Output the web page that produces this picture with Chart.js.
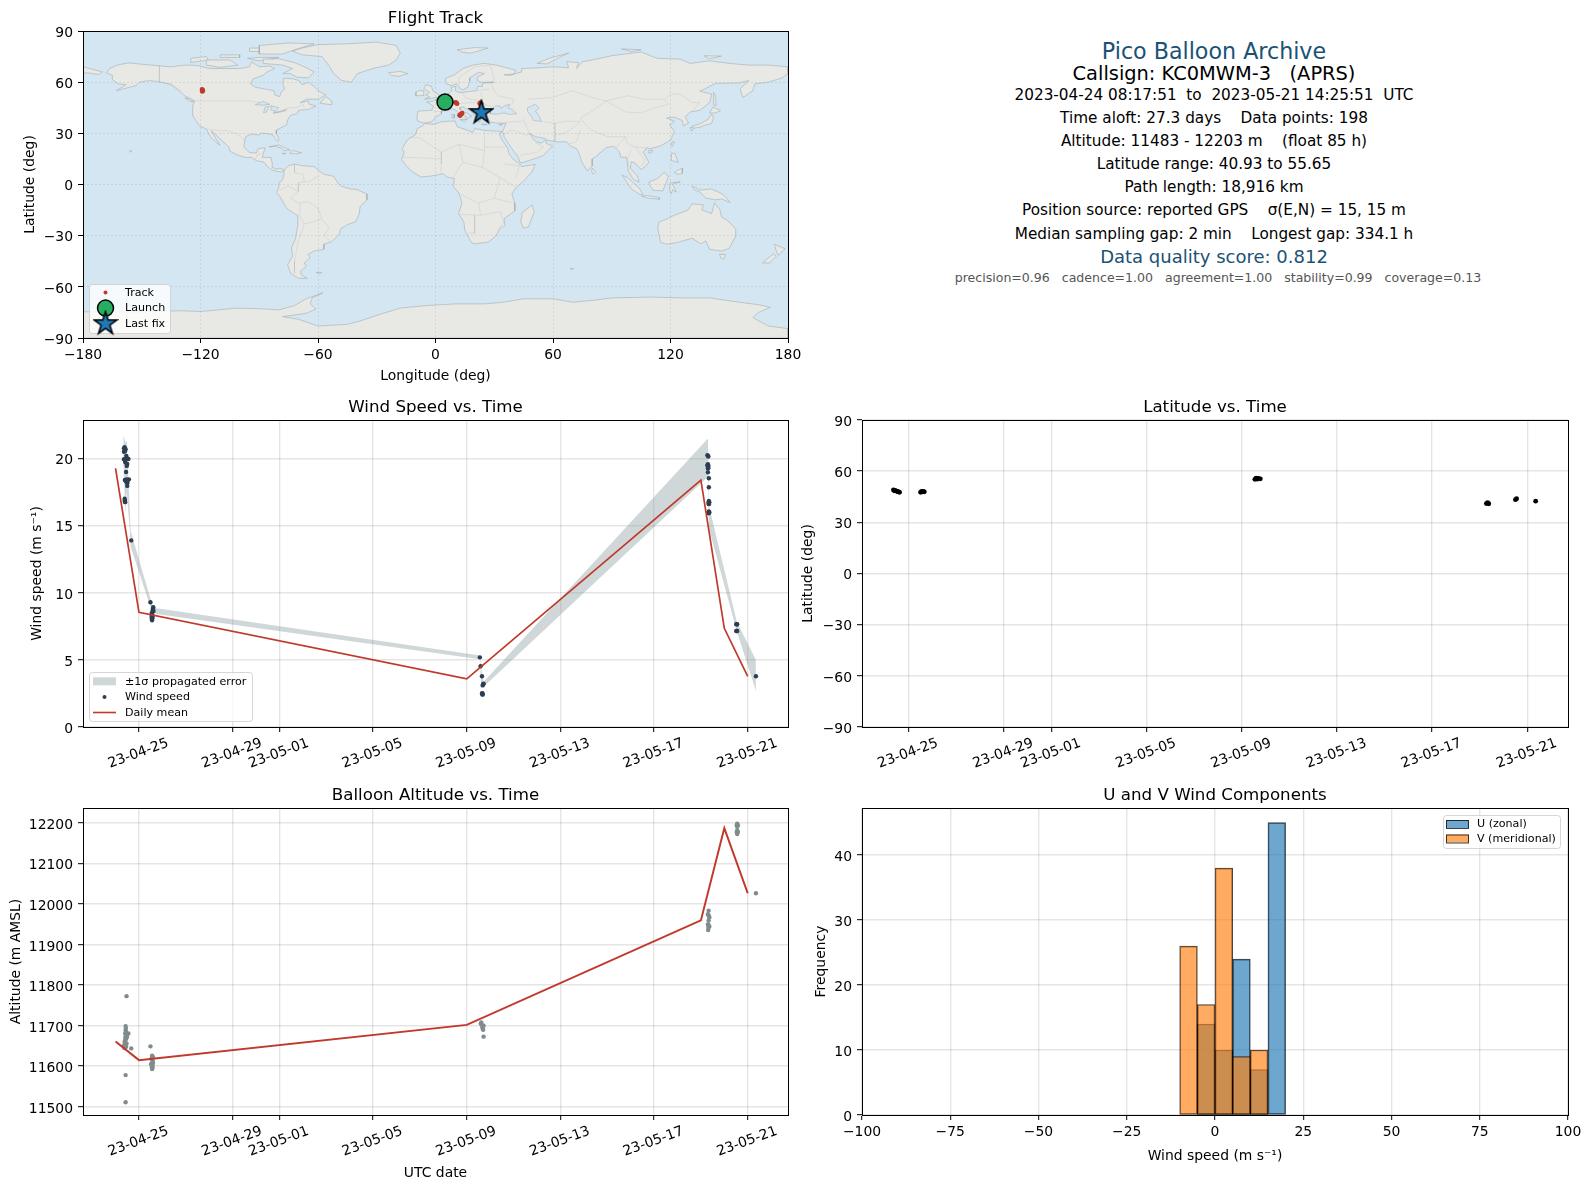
<!DOCTYPE html>
<html>
<head>
<meta charset="utf-8">
<title>Pico Balloon Archive</title>
<script src="https://cdn.jsdelivr.net/npm/chart.js@4/dist/chart.umd.min.js"></script>
<style>
  html, body { margin: 0; padding: 0; background: #fff; overflow: hidden; }
  body { position: relative; width: 1589px; height: 1189px; font-family: "DejaVu Sans", sans-serif; }
  canvas { position: absolute; display: block; }
  .info { position: absolute; left: 814px; width: 800px; text-align: center; white-space: pre; line-height: 1; transform: translateY(-50%); }
</style>
</head>
<body>
<canvas id="mapChart" width="810" height="390" style="left:0;top:0"></canvas>
<canvas id="windChart" width="810" height="388" style="left:0;top:389px"></canvas>
<canvas id="latChart" width="810" height="388" style="left:779px;top:389px"></canvas>
<canvas id="altChart" width="810" height="412" style="left:0;top:777px"></canvas>
<canvas id="histChart" width="810" height="412" style="left:779px;top:777px"></canvas>
<script>
// Time is in days since 2023-04-25 00:00 UTC
const tickDays = [0, 4, 6, 10, 14, 18, 22, 26];
const tickLabels = ['23-04-25', '23-04-29', '23-05-01', '23-05-05', '23-05-09', '23-05-13', '23-05-17', '23-05-21'];

const windDays = [-0.64, -0.57, -0.64, -0.54, -0.64, -0.54, -0.45, -0.58, -0.50, -0.55, -0.60, -0.53, -0.43, -0.50, -0.50, -0.60, -0.60, -0.33,
  -0.61, -0.60, -0.52, -0.60, -0.52, -0.56, -0.49, -0.61, -0.59,
  0.49, 0.61, 0.59, 0.56, 0.54, 0.58, 0.55, 0.60, 0.62, 0.57, 0.54, 0.57, 0.56,
  14.56, 14.59, 14.65, 14.70, 14.67, 14.67, 14.72, 14.68, 14.65, 14.68,
  24.30, 24.30, 24.30, 24.30, 24.30, 24.34, 24.34, 24.34, 24.34, 24.34, 24.34, 24.28, 24.32, 24.28, 24.32, 24.32, 24.32, 24.36, 24.32, 24.36,
  25.53, 25.53, 25.51, 25.55, 25.51, 25.55, 26.35];
const windSpeed = [20.76, 20.70, 20.50, 20.20, 19.95, 19.96, 19.96, 19.70, 19.60, 19.00, 18.40, 18.45, 18.45, 18.15, 17.96, 16.90, 16.80, 13.90,
  20.85, 20.55, 20.05, 19.85, 19.45, 18.30, 18.30, 17.00, 16.75,
  9.29, 8.92, 8.72, 8.54, 8.40, 8.22, 8.05, 8.80, 8.65, 8.35, 8.20, 8.10, 7.95,
  5.19, 4.52, 3.78, 3.18, 2.51, 2.43, 3.22, 3.10, 2.50, 2.42,
  20.20, 19.57, 19.40, 19.27, 18.98, 18.53, 17.86, 16.84, 16.60, 16.05, 15.92, 20.25, 20.15, 19.50, 19.45, 19.30, 16.70, 16.75, 15.95, 16.00,
  7.65, 7.15, 7.65, 7.65, 7.15, 7.15, 3.78];

const bandDays = [-0.668, -0.582, -0.525, -0.40, -0.354, 0.485, 0.57, 0.61, 14.56, 14.62, 14.72, 24.30, 24.34, 25.53, 26.35];
const bandUpper = [21.8, 21.2, 21.3, 16.5, 14.6, 9.6, 9.1, 8.89, 5.33, 4.4, 3.38, 21.5, 16.5, 7.85, 5.0];
const bandLower = [19.6, 15.9, 17.5, 14.9, 13.4, 9.0, 8.0, 8.45, 5.05, 3.0, 3.0, 18.65, 14.8, 7.15, 2.68];

const meanDays = [-1, 0, 14, 24, 25, 26];
const meanWind = [19.27, 8.54, 3.58, 18.4, 7.35, 3.78];

const latDays = [-0.64, -0.60, -0.58, -0.54, -0.50, -0.46, -0.44, -0.42, -0.38, 0.50, 0.54, 0.58, 0.62, 0.66, 14.55, 14.60, 14.65, 14.70, 14.78, 24.28, 24.33, 24.38, 25.50, 25.55, 26.35];
const latValues = [49.0, 48.5, 48.7, 48.5, 48.3, 48.0, 47.9, 47.8, 47.6, 47.6, 48.2, 47.8, 48.2, 47.9, 55.2, 55.9, 55.3, 55.8, 55.5, 41.0, 41.6, 40.9, 43.3, 43.9, 42.4];

const altDays = [-0.53, -0.57, -0.57, -0.55, -0.45, -0.52, -0.58, -0.55, -0.60, -0.58, -0.64, -0.55, -0.33, -0.57, -0.57,
  -0.56, -0.59, -0.51, -0.61, -0.53, -0.62,
  0.49, 0.56, 0.56, 0.59, 0.54, 0.58, 0.56, 0.53, 0.60, 0.52, 0.60, 0.55, 0.58,
  14.62, 14.65, 14.67, 14.70, 14.72, 14.60, 14.72, 14.68,
  24.33, 24.33, 24.33, 24.32, 24.32, 24.31, 24.30, 24.36, 24.30, 24.36,
  25.55, 25.55, 25.55, 25.55, 25.53, 25.58, 25.53, 25.58, 26.35];
const altValues = [11773, 11699, 11689, 11683, 11681, 11677, 11671, 11667, 11663, 11656, 11651, 11648, 11644, 11578, 11511,
  11694, 11680, 11672, 11660, 11656, 11645,
  11649, 11626, 11620, 11613, 11607, 11601, 11593, 11618, 11622, 11605, 11608, 11598, 11596,
  11708, 11702, 11696, 11690, 11673, 11705, 11700, 11692,
  11984, 11972, 11960, 11950, 11942, 11936, 11975, 11968, 11950, 11945,
  12199, 12191, 12182, 12173, 12195, 12195, 12178, 12178, 12027];

const altMeanDays = [-1, 0, 14, 24, 25, 26];
const altMeanValues = [11661, 11615, 11702, 11960, 12188, 12027];

const binCenters = [-7.5, -2.5, 2.5, 7.5, 12.5, 17.5];
const uCounts = [null, 14, 10, 24, 7, 45];
const vCounts = [26, 17, 38, 9, 10, null];

const trackLon = [-119.2, -119.0, -118.8, -119.1, 10.2, 10.6, 11.0, 12.3, 12.8, 13.2, 13.6, 12.6, 23.0, 22.6, 23.3, 4.8, 6.0];
const trackLat = [55.7, 55.3, 55.0, 54.6, 48.2, 47.8, 47.4, 40.6, 41.0, 41.4, 41.8, 40.4, 48.0, 47.5, 47.2, 48.5, 48.2];
const launchLon = [4.85], launchLat = [48.3];
const lastLon = [23.4], lastLat = [42.4];

const mapLonTicks = [-180, -120, -60, 0, 60, 120, 180];
const mapLatTicks = [-90, -60, -30, 0, 30, 60, 90];

// Base map, [lon, lat] outlines
const landPolygons = [
  // North America
  [[-168,65.5],[-166,68.3],[-162,70.2],[-156.5,71.3],[-150,70.5],[-141,69.6],[-135,69],[-128,70],[-122,69.8],[-115,68],[-108,68],[-100,68],[-95,69],[-94,72],[-90,69],[-85,69.5],[-82,68],[-86,66],[-88,64],[-93,62],[-94.5,59],[-92,57],[-87,56],[-82.5,55],[-82,52.5],[-79.5,51.5],[-79,54],[-77,56],[-78,59],[-77.5,62.3],[-73,62],[-70,61],[-68,58.5],[-65,60],[-62,57.5],[-60,55],[-56,52.5],[-60,50],[-66,50],[-69,48],[-65,49],[-64.5,47],[-61,46],[-65,44],[-70,43.5],[-70.5,41.7],[-74,40.6],[-75.5,38],[-76,35],[-78,33.8],[-81,32],[-81.3,30],[-80,26.8],[-80.5,25.2],[-82,27],[-83,29],[-85,29.7],[-89,30.2],[-90,29],[-94,29.6],[-97,28],[-97.5,25],[-97.8,22],[-95,18.7],[-91.5,18.5],[-90.5,21],[-87,21.5],[-88,18],[-88.5,16],[-84,15.8],[-83.3,12],[-83.5,10],[-81,9],[-79.5,9.5],[-77.3,8.5],[-78,7.5],[-80,7.5],[-83,8.3],[-85.5,10],[-87.5,13],[-91.5,14],[-94,16],[-97,15.8],[-101,17.3],[-105,19.5],[-105.5,22],[-109,25.6],[-112,29],[-114.5,31.5],[-112,26.5],[-110,23],[-112,24.8],[-115,28],[-117,32.5],[-120.5,34.5],[-122.5,37.8],[-124.2,41],[-124,46],[-123,49],[-128,52],[-131,55],[-135,58.5],[-140,60],[-146,61],[-151,60],[-153,58],[-158,56.5],[-163,55],[-158,58.5],[-162,59],[-165,61.5],[-165,64]],
  // South America
  [[-77.3,8.5],[-75,11],[-72,12],[-68,11],[-62,10.5],[-60,8.5],[-57,6],[-52,4.8],[-50,1],[-48,-1],[-44,-2.5],[-40,-3],[-35.2,-5.5],[-35,-9],[-38.5,-13],[-39,-17.5],[-41,-22],[-45,-23.5],[-48.5,-26],[-49,-29],[-53,-33.5],[-57,-35],[-57,-38],[-62,-39],[-65,-41],[-64,-43],[-67,-46],[-66,-48],[-69,-51],[-68.5,-53],[-65.5,-55],[-70,-55],[-74,-52],[-75.5,-47],[-73,-42],[-73.5,-37],[-71.5,-32],[-70.5,-25],[-70.3,-18.3],[-76,-14],[-79.5,-7],[-81.2,-4.5],[-80,-2],[-80,1],[-78.5,2],[-77.5,5]],
  // Greenland and the Arctic islands
  [[-73,78.2],[-68,80],[-60,82],[-45,82.5],[-30,83.5],[-20,81.5],[-18,77],[-20,73],[-24,70],[-32,68],[-40,65],[-43,60],[-48,61],[-52,65],[-54,69],[-58,75],[-68,76]],
  [[-80,73.7],[-72,71.5],[-67,69],[-62,66],[-65,62.5],[-71,63],[-74,65],[-78,65],[-73,68],[-78,70],[-88,71],[-88,73.5]],
  [[-117,73],[-105,73],[-101,70],[-110,68.7],[-117,70]],
  [[-125,74],[-117,75],[-116,73],[-125,71.5]],
  [[-90,76.5],[-78,76.5],[-72,79],[-62,82.5],[-75,83],[-90,81.5]],
  [[-110,76],[-100,76],[-100,74.5],[-110,74.5]],
  [[-95,80],[-87,80],[-87,78],[-95,78]],
  [[-96,74],[-90,74.5],[-80,74.5],[-90,72.5]],
  [[-59,47.7],[-53,46.7],[-53,49],[-56,51.5]],
  [[-128,50.8],[-125,50],[-123.5,48.4],[-125.5,48.8]],
  [[-24,65.5],[-18,66.3],[-14,65],[-19,63.4],[-22.5,64]],
  // Eurasia
  [[-9,37],[-9.5,39],[-9,43],[-2,43.5],[-1,46],[-4.5,48.4],[-1.5,48.7],[1.5,50.5],[4,52],[7,53.5],[8.5,55],[8,57],[10.5,57.5],[10,55],[12,54],[14,54],[18.5,54.7],[21,55],[21.5,57.5],[24,57.5],[24,59.3],[28,59.7],[30,60],[23,60],[21.5,61],[21.3,63],[25,65],[22,65.8],[17.5,62.5],[17.5,60.5],[16.5,57],[14,55.5],[12.8,56],[11,59],[8,58],[5.5,59],[5,62],[10,64.5],[14,68],[19,70],[25,71],[31,70],[41,67],[40,64.8],[35,64.3],[38,64],[44,66],[44,68],[54,68.5],[60,69],[68,68.5],[67,72],[73,71.5],[72,68],[75,72],[80,73],[90,75.5],[105,77.7],[113,74],[125,73.5],[130,71],[140,72.5],[150,71],[160,70],[170,70],[180,69],[180,65],[177,62.5],[170,60],[163,59],[162,55],[157,51],[155.5,56],[160,61],[155,59.5],[143,59.3],[135,54.7],[141,53],[140,48],[135,43.5],[130,42.5],[127.5,39.5],[129.3,36],[126.5,34.5],[126,37.5],[122,39.5],[118,39],[122,37],[119.5,35],[122,31],[120,26],[115,22.7],[110,21],[108,21.5],[106,19],[109,13],[107,10.5],[105,8.7],[102,12.5],[100,13.5],[99.5,9.5],[103,5],[104,1.4],[101,3],[98.5,8],[97.5,16],[94.5,16],[94,19],[91,22.5],[87,21.5],[82,16.5],[80,15],[80,11],[77.5,8],[75,12.5],[73,19],[72,21],[69,22.5],[67,25],[61.5,25],[57,26],[56,27],[51,28],[48,30],[50,26.5],[51.5,25],[54,24.2],[56.3,26],[56.7,24],[59.8,22.5],[55,17],[52,15.7],[45,13],[43.3,12.7],[42,16.5],[39,21],[35,28],[34.8,29.5],[34.2,31],[35,33],[36,36],[32,36],[28,36.6],[26.5,39],[26,41],[24,41],[23,40],[23,38],[22.5,36.5],[21,38],[19.5,41],[19,42.5],[14,45.5],[12.3,45],[12.5,44],[16,41.8],[18.5,40],[16.5,39],[16,38],[15.7,40],[12.5,41.5],[10,43.8],[8.5,44.3],[5,43.3],[3,43],[3,41.5],[0,39.5],[-2,36.8],[-5.5,36]],
  [[-180,69],[-175,67.5],[-170,66],[-172,64.5],[-178,65.5],[-180,65]],
  [[-5.5,50],[1.4,51.2],[1.7,52.7],[-1.5,55],[-2,57.5],[-5,58.6],[-6,56.3],[-3,54],[-5,52.5],[-3,51.4]],
  [[-10,52],[-6,52.2],[-6,55],[-8.5,55],[-10,54]],
  [[11,79],[20,80.3],[27,80],[18,77],[14,77.5]],
  [[52,71],[58,74],[68,77],[65,75.5],[57,70.7]],
  [[95,79.5],[105,79],[100,78]],
  [[137,75.5],[146,75.3],[140,73.7]],
  [[12.5,38],[15.6,38.2],[15,36.7]],
  [[8.3,41],[9.7,41],[9.5,39],[8.5,39]],
  [[23.5,35.5],[26.3,35.2],[24,35]],
  [[32.4,35],[34.5,35.6],[33.5,34.7]],
  // Caribbean and small islands
  [[-85,22],[-80,23.2],[-74.2,20.2],[-77.5,19.9],[-78.5,21.3],[-82,22.5]],
  [[-74.4,18.4],[-73,19.9],[-68.4,18.6],[-71,18]],
  [[-78.3,18.4],[-76.3,18.2],[-77,17.8]],
  [[-156,20],[-155,19.6],[-155.8,19]],
  [[-61,-51.5],[-58,-51.5],[-59,-52.3]],
  [[69,-49],[70.5,-49.5],[69,-49.7]],
  // Africa
  [[-5.5,35.8],[-1,35.2],[3,36.8],[10,37.3],[11,34],[15,32.3],[19,30.5],[20,32.8],[25,31.7],[31,31.3],[34.2,31],[32.6,29.8],[33.5,27],[37,21],[37.5,18],[39.5,15],[43,12],[44,10.5],[51,11.8],[49,7],[45,2],[41,-2],[39,-5.5],[40.5,-11],[40.5,-15.5],[35,-20],[35.5,-24],[32.7,-26],[31,-30],[27,-33.8],[20,-34.8],[18.3,-34],[15,-27],[14.5,-22],[11.8,-17],[13.5,-11],[12,-5],[9,-1],[9.7,3.5],[6,4.3],[4,6.3],[-2,5],[-7.5,4.4],[-12,7.7],[-15,11],[-17.3,14.7],[-16,19],[-17,21],[-14.5,26],[-10,29.5],[-9.5,32.5],[-6.5,34.5]],
  [[49.3,-12],[50.4,-16],[47.5,-24.8],[45,-25.5],[43.5,-22],[44.3,-16.5]],
  // Australia and Oceania
  [[114,-22],[113.5,-26],[115,-34],[118,-35],[123.5,-34],[131,-31.5],[135.5,-34.8],[138,-33],[140,-38],[146,-39],[150,-37.5],[153,-31],[153.3,-26],[149,-21],[146,-19],[145.3,-15],[142.5,-10.8],[141,-17],[136,-15],[136.8,-12],[131,-11.3],[129,-15],[122,-18],[118,-20.3]],
  [[145,-41],[148,-41],[147.5,-43.5],[146,-43.5]],
  [[173,-35],[178.5,-37.7],[175,-41.5],[174,-39]],
  [[172.5,-40.7],[174,-42],[170.7,-46],[167,-46],[170,-43]],
  // East Asia and the Indonesian arc
  [[130.9,34],[135,35.6],[139,38],[141,41.3],[142,39],[140.8,35.7],[137,34.6],[135.5,33.7],[132,33]],
  [[140,42],[141.7,45.5],[145.5,43.3],[143,42]],
  [[130,33.4],[131.8,33.2],[130.7,31.2]],
  [[142,54],[143,52],[143.3,46.5],[142,46.5],[142,50]],
  [[121,25],[122,25],[120.8,22],[120.2,23]],
  [[109,20],[111,20],[110,18.2],[108.7,18.8]],
  [[120.5,18.3],[122.2,18.3],[124,13],[120.7,14]],
  [[122,7],[123.8,8.5],[126.3,9.5],[126,6.5],[124,6]],
  [[95.3,5.5],[98,4],[104,-2],[106,-6],[104,-5.7],[100,-2.5]],
  [[105.2,-6.8],[108.5,-6.5],[114.5,-7.8],[114.3,-8.7],[108,-7.9]],
  [[109,1.5],[113,3.2],[116.8,7],[119,5],[117.8,1],[116,-3.8],[111,-3.3],[109.5,-0.5]],
  [[119.8,1],[125,1.5],[121,0.3],[123,-4.5],[121,-3],[120.5,-5.5],[119.5,-3.5]],
  [[131,-0.8],[135,-3.3],[141,-2.6],[145.5,-5],[147.5,-6.5],[150.5,-10.5],[146,-8.5],[143,-9],[138,-8],[135,-4.4],[132,-3]],
  [[80,9.7],[81.8,7.5],[80.5,6],[79.8,7.5]],
  // Antarctica
  [[-180,-90],[-180,-74.6],[-150,-74.8],[-130,-74],[-120,-74.5],[-102,-72.5],[-90,-72.8],[-80,-73.5],[-72,-71],[-66,-67],[-57.5,-63.5],[-63,-66.5],[-64,-70],[-61,-73],[-66,-75.5],[-78,-77.5],[-70,-79],[-60,-83],[-45,-82],[-37,-79.5],[-28,-76],[-18,-72.5],[-5,-71],[10,-70],[25,-70],[35,-69],[45,-67],[60,-67],[70,-69],[80,-68],[90,-66.5],[110,-66],[125,-66.5],[140,-66.5],[155,-69],[165,-70.5],[171,-72],[165,-75],[162,-78],[170,-83],[180,-84.5],[180,-90]]
];

const waterPolygons = [
  [[28,41.5],[31,41.2],[35,42],[38,41],[41.5,41.5],[39,44],[37,45],[38,47],[35,46],[33.5,44.5],[33,46],[30.5,46],[28,43.5]],
  [[47,45],[51,47],[53,45],[51,43],[53,40],[54,37],[50,37.5],[49,40],[47,43]],
  [[-92,46.8],[-88,48.8],[-84.8,47],[-88,46.5]],
  [[-87.8,42],[-87,45.5],[-85,45.8],[-86.3,42.5]],
  [[-84,46],[-80,45],[-81.7,43],[-83.5,43.5]],
  [[-83,41.8],[-79,43],[-76,44],[-76.5,43.3],[-79,42.5]]
];

const borderLines = [
  [[-123,49],[-95,49],[-89,48],[-83,46],[-82.5,42.5],[-79,43],[-75,45],[-71,45],[-67.5,47],[-67,45]],
  [[-141,69.6],[-141,60],[-135,59],[-130,55]],
  [[-117,32.5],[-108,31.5],[-106.5,31.7],[-101,29.5],[-97.5,26]],
  [[-92,14.5],[-91,17.5],[-89,18]],
  [[-60,5],[-64,2],[-70,1],[-70,-4],[-74,-8],[-70,-11],[-65,-10],[-60,-14],[-58,-20],[-54.5,-25.5],[-57,-30],[-53.5,-33.5]],
  [[-69.5,-18],[-67,-23],[-70,-33],[-72,-45],[-72,-52]],
  [[-69,-11],[-69.5,-18]],
  [[-72,12],[-72,7],[-67.5,6],[-67,1.5]],
  [[-80,-3.5],[-75,-1],[-70,-4]],
  [[-67,-23],[-62.5,-22],[-58,-20]],
  [[-13,27.5],[-8.5,27.5],[3,19],[12,23.5],[25,20],[25,31.5]],
  [[25,20],[24,10],[33,4],[41,-1.5]],
  [[12,23.5],[14,13],[9,4.5]],
  [[3,19],[3,12],[2.7,6.4]],
  [[-16.5,16],[-5,15.5],[3,15]],
  [[14,13],[24,10]],
  [[36,22],[25,22]],
  [[33,4],[30,-8],[22,-11],[13,-6]],
  [[30,-8],[40,-11]],
  [[22,-11],[23,-18],[12,-17.5]],
  [[20,-18],[20,-28.5],[16.5,-28.5]],
  [[23,-18],[33,-16],[35,-22],[32,-26]],
  [[35,12],[43,11],[41,4]],
  [[-1.8,43.4],[3,42.5]],
  [[2.5,51],[8,49],[7,44]],
  [[7,53.5],[6,51],[8,47.5],[13,47.5],[17,48],[23,48],[29,45.5]],
  [[14,54],[15,51],[18,50],[23,49]],
  [[23,54],[24,50],[22,48]],
  [[28,60],[30,55],[32,52],[40,50],[39,47]],
  [[21,55],[28,56]],
  [[20,69],[28,70],[30,62],[28,60]],
  [[12,59],[12,63],[20,69]],
  [[47,50],[60,51],[70,55],[80,51],[87,49]],
  [[87,49],[98,52],[107,50],[117,50],[120,53],[125,53],[131,48],[135,48],[131,43]],
  [[87,49],[80,43],[74,39],[79,32],[88,28],[97,28],[98,24],[102,22],[108,21.5]],
  [[87,49],[97,42.5],[105,42],[112,45],[119,47],[117,50]],
  [[44.5,39],[48,30]],
  [[61,36],[61,25]],
  [[54,37],[61,36],[66,37],[74,37]],
  [[61,29],[66,30],[70,33],[74,37]],
  [[68,24],[72,25],[74,32]],
  [[35,29.5],[39,32],[46,29],[48,29.5]],
  [[43,17],[52,19],[55,22],[51,24.5]],
  [[36,36.5],[44.5,37]],
  [[92,21],[94,24],[97,28]],
  [[100,20],[98,15],[99,10]],
  [[102,22],[107,14],[105,10.5]]
];

const infoLines = [
  { text: 'Pico Balloon Archive', y: 51.2, size: 22.2, color: '#1a5276' },
  { text: 'Callsign: KC0MWM-3   (APRS)', y: 74, size: 19.4, color: '#000' },
  { text: '2023-04-24 08:17:51  to  2023-05-21 14:25:51  UTC', y: 96, size: 15.28, color: '#000' },
  { text: 'Time aloft: 27.3 days    Data points: 198', y: 119, size: 15.28, color: '#000' },
  { text: 'Altitude: 11483 - 12203 m    (float 85 h)', y: 142.4, size: 15.28, color: '#000' },
  { text: 'Latitude range: 40.93 to 55.65', y: 165, size: 15.28, color: '#000' },
  { text: 'Path length: 18,916 km', y: 188, size: 15.28, color: '#000' },
  { text: 'Position source: reported GPS    σ(E,N) = 15, 15 m', y: 211.3, size: 15.28, color: '#000' },
  { text: 'Median sampling gap: 2 min    Longest gap: 334.1 h', y: 234.5, size: 15.28, color: '#000' },
  { text: 'Data quality score: 0.812', y: 257.4, size: 18, color: '#1a5276' },
  { text: 'precision=0.96   cadence=1.00   agreement=1.00   stability=0.99   coverage=0.13', y: 277.7, size: 12.55, color: '#555', shift: 4 }
];

const FONT = '"DejaVu Sans", sans-serif';
const RED = '#c0392b';
const GRID = 'rgba(0,0,0,0.10)';
const BAND = 'rgba(125,145,150,0.36)';

Chart.defaults.font.family = FONT;
Chart.defaults.font.size = 13.9;
Chart.defaults.color = '#000';
Chart.defaults.animation = false;
Chart.defaults.responsive = false;
Chart.defaults.events = [];

infoLines.forEach(function (line) {
  const div = document.createElement('div');
  div.className = 'info';
  div.textContent = line.text;
  div.style.top = line.y + 'px';
  div.style.fontSize = line.size + 'px';
  div.style.color = line.color;
  if (line.shift) {
    div.style.left = (814 + line.shift) + 'px';
  }
  document.body.appendChild(div);
});

function zipPoints(xs, ys) {
  return xs.map(function (x, i) { return { x: x, y: ys[i] }; });
}

function pairPoints(pairs) {
  return pairs.map(function (p) { return { x: p[0], y: p[1] }; });
}

function minusSign(value) {
  return value < 0 ? '\u2212' + Math.abs(value) : String(value);
}

// Star marker for the last fix, Chart.js only has an asterisk-like star
function makeStar() {
  const size = 26;
  const c = document.createElement('canvas');
  c.width = size;
  c.height = size;
  const ctx = c.getContext('2d');
  ctx.beginPath();
  for (let i = 0; i < 10; i++) {
    const r = i % 2 ? 4.6 : 12;
    const a = -Math.PI / 2 + i * Math.PI / 5;
    ctx.lineTo(13 + r * Math.cos(a), 13.5 + r * Math.sin(a));
  }
  ctx.closePath();
  ctx.fillStyle = '#1f77b4';
  ctx.fill();
  ctx.lineWidth = 1.5;
  ctx.strokeStyle = '#000';
  ctx.stroke();
  return c;
}
const starImage = makeStar();

// Closes the axes box on all four sides, after the grid on the map
const framePlugin = {
  id: 'frame',
  afterDraw(chart) {
    const a = chart.chartArea;
    const ctx = chart.ctx;
    ctx.save();
    ctx.strokeStyle = '#000';
    ctx.lineWidth = 1;
    ctx.strokeRect(Math.round(a.left) + 0.5, Math.round(a.top) + 0.5, Math.round(a.right - a.left), Math.round(a.bottom - a.top));
    ctx.restore();
  }
};

// Paints the sea behind the map
const seaPlugin = {
  id: 'sea',
  beforeDatasetsDraw(chart) {
    const a = chart.chartArea;
    chart.ctx.save();
    chart.ctx.fillStyle = '#d4e6f1';
    chart.ctx.fillRect(a.left, a.top, a.right - a.left, a.bottom - a.top);
    chart.ctx.restore();
  }
};

// Legend box inside the axes, like the matplotlib one
function legendPlugin(cfg) {
  return {
    id: 'boxLegend',
    afterDraw(chart) {
      const ctx = chart.ctx;
      ctx.save();
      ctx.beginPath();
      ctx.roundRect(cfg.x + 0.5, cfg.y + 0.5, cfg.w, cfg.h, 3);
      ctx.fillStyle = 'rgba(255,255,255,0.8)';
      ctx.fill();
      ctx.strokeStyle = 'rgba(204,204,204,0.8)';
      ctx.lineWidth = 1;
      ctx.stroke();
      ctx.font = '11.1px ' + FONT;
      ctx.textBaseline = 'middle';
      cfg.rows.forEach(function (row, i) {
        const y = cfg.y + cfg.firstRow + i * cfg.rowStep;
        const x1 = cfg.x + cfg.keyLeft;
        const xc = x1 + 11.5;
        ctx.lineWidth = 1;
        if (row.kind === 'patch') {
          ctx.fillStyle = row.color;
          ctx.fillRect(x1, y - 4, 23, 8);
          if (row.edge) {
            ctx.strokeStyle = row.edge;
            ctx.strokeRect(x1 + 0.5, y - 3.5, 22, 8);
          }
        } else if (row.kind === 'line') {
          ctx.strokeStyle = row.color;
          ctx.lineWidth = 1.6;
          ctx.beginPath();
          ctx.moveTo(x1, y);
          ctx.lineTo(x1 + 23, y);
          ctx.stroke();
        } else if (row.kind === 'dot') {
          ctx.fillStyle = row.color;
          ctx.beginPath();
          ctx.arc(xc, y, 2, 0, Math.PI * 2);
          ctx.fill();
        } else if (row.kind === 'circle') {
          ctx.fillStyle = row.color;
          ctx.strokeStyle = '#000';
          ctx.lineWidth = 1.5;
          ctx.beginPath();
          ctx.arc(xc, y, 8, 0, Math.PI * 2);
          ctx.fill();
          ctx.stroke();
        } else if (row.kind === 'star') {
          ctx.drawImage(starImage, xc - 13, y - 13.5);
        }
        ctx.fillStyle = '#000';
        ctx.fillText(row.label, cfg.x + cfg.textLeft, y + 0.5);
      });
      ctx.restore();
    }
  };
}

function fixedX(height) {
  return function (scale) {
    scale.height = height;
    scale.paddingLeft = 0;
    scale.paddingRight = 0;
  };
}

function fixedY(width) {
  return function (scale) {
    scale.width = width;
    scale.paddingTop = 0;
    scale.paddingBottom = 0;
  };
}

function titleOptions(text) {
  return {
    display: true,
    text: text,
    fullSize: false,
    font: { size: 16.67, weight: 'normal', lineHeight: '20px' },
    padding: { top: 9, bottom: 2 }
  };
}

// Chart.js reads padding.bottom on a bottom axis and padding.top on a left axis
function axisTitle(text, offset) {
  return { display: true, text: text, font: { size: 13.9 }, padding: { top: offset, bottom: offset } };
}

function gridOptions(extra) {
  return Object.assign({ color: GRID, tickColor: '#000', tickLength: 5, lineWidth: 1.4, tickWidth: 1 }, extra || {});
}

// Date axis with the uneven ticks of the original
function dateAxis(min, max, height, title) {
  return {
    type: 'linear',
    min: min,
    max: max,
    afterFit: fixedX(height),
    afterBuildTicks: function (axis) {
      axis.ticks = tickDays.map(function (d) { return { value: d }; });
    },
    border: { color: '#000' },
    grid: gridOptions(),
    title: title || { display: false },
    ticks: {
      autoSkip: false,
      maxRotation: 20,
      minRotation: 20,
      padding: 3,
      labelOffset: 29,
      callback: function (value) { return tickLabels[tickDays.indexOf(value)]; }
    }
  };
}

function valueAxis(min, max, step, title) {
  return {
    type: 'linear',
    min: min,
    max: max,
    afterFit: fixedY(83),
    border: { color: '#000' },
    grid: gridOptions(),
    title: title,
    ticks: { stepSize: step, includeBounds: false, padding: 5, labelOffset: 2.2, autoSkip: false, callback: minusSign }
  };
}

function baseOptions(title, right, scales) {
  return {
    layout: { padding: { right: right } },
    plugins: { legend: { display: false }, tooltip: { enabled: false }, title: titleOptions(title) },
    scales: scales
  };
}

// Flight track map
const mapDatasets = [];
mapDatasets.push({ data: zipPoints(lastLon, lastLat), pointStyle: starImage, pointRadius: 12 });
mapDatasets.push({ data: zipPoints(launchLon, launchLat), pointRadius: 8, backgroundColor: '#27ae60', borderColor: '#000', borderWidth: 1.5 });
mapDatasets.push({ data: zipPoints(trackLon, trackLat), pointRadius: 2.4, backgroundColor: RED, borderWidth: 0 });
waterPolygons.forEach(function (poly) {
  mapDatasets.push({ data: pairPoints(poly.concat([poly[0]])), showLine: true, fill: 'shape', pointRadius: 0, backgroundColor: '#d4e6f1', borderColor: 'rgba(150,160,165,0.55)', borderWidth: 0.8 });
});
borderLines.forEach(function (line) {
  mapDatasets.push({ data: pairPoints(line), showLine: true, pointRadius: 0, borderColor: 'rgba(170,175,175,0.35)', borderWidth: 0.7 });
});
landPolygons.forEach(function (poly) {
  mapDatasets.push({ data: pairPoints(poly.concat([poly[0]])), showLine: true, fill: 'shape', pointRadius: 0, backgroundColor: '#e8e8e4', borderColor: 'rgba(150,160,165,0.6)', borderWidth: 0.8 });
});

new Chart(document.getElementById('mapChart'), {
  type: 'scatter',
  data: { datasets: mapDatasets },
  options: baseOptions('Flight Track', 22, {
    x: {
      type: 'linear', min: -180, max: 180,
      afterFit: fixedX(52),
      afterBuildTicks: function (axis) { axis.ticks = mapLonTicks.map(function (v) { return { value: v }; }); },
      border: { display: false, dash: [2, 2] },
      grid: gridOptions({ z: 1, color: 'rgba(120,120,120,0.17)', lineWidth: 1 }),
      title: axisTitle('Longitude (deg)', 5),
      ticks: { maxRotation: 0, autoSkip: false, padding: 4, callback: minusSign }
    },
    y: {
      type: 'linear', min: -90, max: 90,
      afterFit: fixedY(83),
      afterBuildTicks: function (axis) { axis.ticks = mapLatTicks.map(function (v) { return { value: v }; }); },
      border: { display: false, dash: [2, 2] },
      grid: gridOptions({ z: 1, color: 'rgba(120,120,120,0.17)', lineWidth: 1 }),
      title: axisTitle('Latitude (deg)', 22),
      ticks: { autoSkip: false, padding: 5, labelOffset: 2.2, callback: minusSign }
    }
  }),
  plugins: [seaPlugin, framePlugin, legendPlugin({
    x: 89, y: 284, w: 81, h: 49, firstRow: 8.5, rowStep: 15.6, keyLeft: 5, textLeft: 36,
    rows: [
      { kind: 'dot', color: RED, label: 'Track' },
      { kind: 'circle', color: '#27ae60', label: 'Launch' },
      { kind: 'star', label: 'Last fix' }
    ]
  })]
});

// Wind speed
new Chart(document.getElementById('windChart'), {
  type: 'scatter',
  data: {
    datasets: [
      { data: zipPoints(meanDays, meanWind), showLine: true, pointRadius: 0, borderColor: RED, borderWidth: 1.7 },
      { data: zipPoints(windDays, windSpeed), pointRadius: 2.2, backgroundColor: '#2c3e50', borderWidth: 0 },
      { data: zipPoints(bandDays, bandUpper), showLine: true, pointRadius: 0, borderWidth: 0, fill: '+1', backgroundColor: BAND },
      { data: zipPoints(bandDays, bandLower), showLine: true, pointRadius: 0, borderWidth: 0 }
    ]
  },
  options: baseOptions('Wind Speed vs. Time', 22, {
    x: dateAxis(-2.39, 27.72, 50),
    y: valueAxis(0, 22.87, 5, axisTitle('Wind speed (m s\u207B\u00B9)', 29))
  }),
  plugins: [framePlugin, legendPlugin({
    x: 89, y: 283, w: 163, h: 49, firstRow: 9.3, rowStep: 15.6, keyLeft: 4, textLeft: 36,
    rows: [
      { kind: 'patch', color: BAND, label: '\u00B11\u03C3 propagated error' },
      { kind: 'dot', color: '#2c3e50', label: 'Wind speed' },
      { kind: 'line', color: RED, label: 'Daily mean' }
    ]
  })]
});

// Latitude
new Chart(document.getElementById('latChart'), {
  type: 'scatter',
  data: { datasets: [{ data: zipPoints(latDays, latValues), pointRadius: 2.4, backgroundColor: '#000', borderWidth: 0 }] },
  options: baseOptions('Latitude vs. Time', 21, {
    x: dateAxis(-1.96, 27.71, 50),
    y: valueAxis(-90, 90, 30, axisTitle('Latitude (deg)', 21.4))
  }),
  plugins: [framePlugin]
});

// Altitude
new Chart(document.getElementById('altChart'), {
  type: 'scatter',
  data: {
    datasets: [
      { data: zipPoints(altMeanDays, altMeanValues), showLine: true, pointRadius: 0, borderColor: RED, borderWidth: 2 },
      { data: zipPoints(altDays, altValues), pointRadius: 2.2, backgroundColor: '#7f8c8d', borderWidth: 0 }
    ]
  },
  options: baseOptions('Balloon Altitude vs. Time', 22, {
    x: dateAxis(-2.39, 27.72, 74, axisTitle('UTC date', 7)),
    y: valueAxis(11479.5, 12237.5, 100, axisTitle('Altitude (m AMSL)', 8))
  }),
  plugins: [framePlugin]
});

// Wind components histogram
new Chart(document.getElementById('histChart'), {
  type: 'bar',
  data: {
    datasets: [
      { data: zipPoints(binCenters, vCounts), backgroundColor: 'rgba(255,127,14,0.65)', borderColor: 'rgba(0,0,0,0.75)', borderWidth: 1, borderSkipped: false, barPercentage: 1, categoryPercentage: 1, grouped: false },
      { data: zipPoints(binCenters, uCounts), backgroundColor: 'rgba(31,119,180,0.65)', borderColor: 'rgba(0,0,0,0.75)', borderWidth: 1, borderSkipped: false, barPercentage: 1, categoryPercentage: 1, grouped: false }
    ]
  },
  options: baseOptions('U and V Wind Components', 21, {
    x: {
      type: 'linear', min: -100, max: 100, offset: false,
      afterFit: fixedX(74),
      border: { color: '#000' },
      grid: gridOptions({ offset: false }),
      title: axisTitle('Wind speed (m s\u207B\u00B9)', 24.6),
      ticks: { stepSize: 25, maxRotation: 0, autoSkip: false, padding: 4, callback: minusSign }
    },
    y: valueAxis(0, 47.25, 10, axisTitle('Frequency', 34.5))
  }),
  plugins: [framePlugin, legendPlugin({
    x: 664, y: 38, w: 117, h: 33, firstRow: 9, rowStep: 14.5, keyLeft: 3, textLeft: 34,
    rows: [
      { kind: 'patch', color: 'rgba(31,119,180,0.65)', edge: 'rgba(0,0,0,0.75)', label: 'U (zonal)' },
      { kind: 'patch', color: 'rgba(255,127,14,0.65)', edge: 'rgba(0,0,0,0.75)', label: 'V (meridional)' }
    ]
  })]
});
</script>
</body>
</html>
